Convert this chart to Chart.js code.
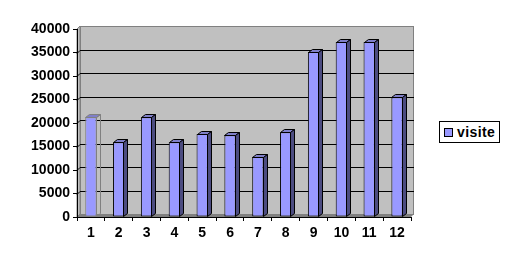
<!DOCTYPE html>
<html>
<head>
<meta charset="utf-8">
<script src="https://cdn.jsdelivr.net/npm/chart.js@4/dist/chart.umd.min.js"></script>
<style>
    body { margin: 0; background: #fff; }
    #wrap { position: relative; width: 509px; height: 263px; }
    #legend {
        position: absolute; left: 439px; top: 121px; width: 59px; height: 20px;
        border: 1px solid #000; background: #fff;
        font: bold 14px "Liberation Sans", Arial, sans-serif; color: #000;
        letter-spacing: 0.4px;
    }
    #legend .sw {
        position: absolute; left: 4px; top: 6px; width: 7px; height: 7px;
        background: #9999ff; border: 1px solid #000;
    }
    #legend .lb { position: absolute; left: 17px; top: 2px; }
</style>
</head>
<body>
<div id="wrap">
    <canvas id="chart" width="509" height="263"></canvas>
    <div id="legend"><span class="sw"></span><span class="lb">visite</span></div>
</div>
<script>
const categories = ["1", "2", "3", "4", "5", "6", "7", "8", "9", "10", "11", "12"];
const seriesName = "visite";
const visits = [21250, 15900, 21250, 15900, 17650, 17400, 12800, 18050, 35100, 37250, 37250, 25500];
const yTicks = [0, 5000, 10000, 15000, 20000, 25000, 30000, 35000, 40000];

const FRONT = "#9999ff";
const SIDE = "#4c4c80";
const TOP = "#7f7fc8";
const DX = 3, DY = 3;     // wall depth
const BDX = 4, BDY = 3;   // bar depth

// excel-like 3d box: walls, floor, back gridlines
const walls = {
    id: "walls",
    beforeDraw(chart) {
        const { ctx, chartArea: a, scales: { y } } = chart;
        ctx.save();
        // left wall
        ctx.fillStyle = "#c0c0c0";
        ctx.beginPath();
        ctx.moveTo(a.left, a.top);
        ctx.lineTo(a.left + DX, a.top - DY);
        ctx.lineTo(a.left + DX, a.bottom - DY);
        ctx.lineTo(a.left, a.bottom);
        ctx.closePath();
        ctx.fill();
        ctx.strokeStyle = "#808080";
        ctx.lineWidth = 1;
        ctx.stroke();
        // back wall
        ctx.fillRect(a.left + DX, a.top - DY, a.right - a.left, a.bottom - a.top);
        ctx.strokeRect(a.left + DX + 0.5, a.top - DY + 0.5, a.right - a.left - 1, a.bottom - a.top);
        // floor
        ctx.fillStyle = "#808080";
        ctx.beginPath();
        ctx.moveTo(a.left, a.bottom);
        ctx.lineTo(a.left + DX, a.bottom - DY);
        ctx.lineTo(a.right + DX, a.bottom - DY);
        ctx.lineTo(a.right, a.bottom);
        ctx.closePath();
        ctx.fill();
        // gridlines
        ctx.strokeStyle = "#000";
        yTicks.slice(1, -1).forEach(v => {
            const py = Math.round(y.getPixelForValue(v)) + 0.5;
            ctx.beginPath();
            ctx.moveTo(a.left, py);
            ctx.lineTo(a.left + DX, py - DY);
            ctx.lineTo(a.right + DX, py - DY);
            ctx.stroke();
        });
        ctx.restore();
    }
};

const bars3d = {
    id: "bars3d",
    afterDatasetsDraw(chart) {
        const { ctx } = chart;
        const meta = chart.getDatasetMeta(0);
        ctx.save();
        ctx.lineWidth = 1;
        meta.data.forEach((bar, i) => {
            const p = bar.getProps(["x", "y", "base", "width"], true);
            const l = Math.round(p.x - p.width / 2) + 0.5;
            const r = Math.round(p.x + p.width / 2) - 0.5;
            const t = Math.round(p.y) + 0.5;
            const b = Math.round(p.base) - 0.5;
            const first = i === 0;
            ctx.strokeStyle = first ? "#808080" : "#000";
            // top face
            ctx.beginPath();
            ctx.moveTo(l, t);
            ctx.lineTo(l + BDX, t - BDY);
            ctx.lineTo(r + BDX, t - BDY);
            ctx.lineTo(r, t);
            ctx.closePath();
            ctx.fillStyle = TOP;
            ctx.fill();
            ctx.stroke();
            // side face
            ctx.beginPath();
            ctx.moveTo(r, t);
            ctx.lineTo(r + BDX, t - BDY);
            ctx.lineTo(r + BDX, b - BDY);
            ctx.lineTo(r, b);
            ctx.closePath();
            if (!first) {
                ctx.fillStyle = SIDE;
                ctx.fill();
            }
            ctx.stroke();
        });
        ctx.restore();
    }
};

const font = { family: "'Liberation Sans', Arial, sans-serif", size: 14, weight: "bold" };

new Chart(document.getElementById("chart"), {
    type: "bar",
    data: {
        labels: categories,
        datasets: [{
            label: seriesName,
            data: visits,
            backgroundColor: FRONT,
            borderColor: visits.map((v, i) => i === 0 ? "#808080" : "#000"),
            borderWidth: 1,
            borderSkipped: false,
            categoryPercentage: 1,
            barPercentage: 0.41
        }]
    },
    options: {
        responsive: false,
        animation: false,
        layout: { padding: { top: 29, right: 98, bottom: 0, left: 0 } },
        plugins: { legend: { display: false }, tooltip: { enabled: false } },
        scales: {
            x: {
                grid: { drawOnChartArea: false, color: "#000", tickLength: 4, offset: true },
                border: { color: "#000" },
                ticks: { color: "#000", font, padding: 4, maxRotation: 0 },
                afterFit(scale) { scale.height = 46; }
            },
            y: {
                min: 0,
                max: 40000,
                grid: { drawOnChartArea: false, color: "#000", tickLength: 4 },
                border: { color: "#000" },
                ticks: { color: "#000", font, padding: 3, stepSize: 5000, callback: v => String(v) },
                afterFit(scale) { scale.width = 77; }
            }
        }
    },
    plugins: [walls, bars3d]
});
</script>
</body>
</html>
